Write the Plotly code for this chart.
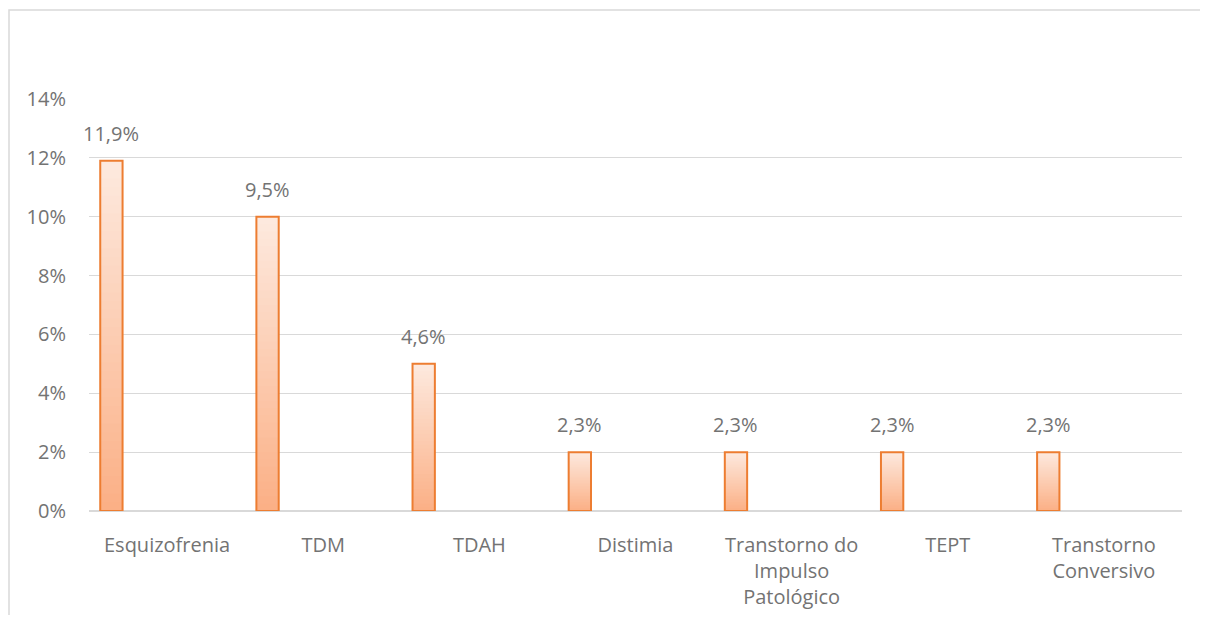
import plotly.graph_objects as go

# ---- data ----
categories = ["Esquizofrenia", "TDM", "TDAH", "Distimia",
              "Transtorno do<br>Impulso<br>Patológico", "TEPT",
              "Transtorno<br>Conversivo"]
bar_values = [11.9, 10.0, 5.0, 2.0, 2.0, 2.0, 2.0]          # bar heights as drawn (%)
label_texts = ["11,9%", "9,5%", "4,6%", "2,3%", "2,3%", "2,3%", "2,3%"]
y_tick_values = [0, 2, 4, 6, 8, 10, 12, 14]
y_tick_labels = ["0%", "2%", "4%", "6%", "8%", "10%", "12%", "14%"]

# ---- style ----
FONT = "Open Sans"
TXT = "#737373"
GRID = "#D9D9D9"
OUTLINE = "#ED7D31"
BOTTOM_RGB = (251, 176, 134)
TOP_RGB = (253, 233, 222)
BAR_OFFSET = -0.428
BAR_WIDTH = 0.143
N_SEG = 40

# page body has an 8px margin; figure sized to fit the window without scrollbars
FW, FH = 1200, 607
ML, MR, MT, MB = 81, 26, 91, 104
PW = FW - ML - MR
PH = FH - MT - MB

xpos = list(range(len(categories)))

fig = go.Figure()

# gradient fill: overlapping layers from bottom (dark) to top (light)
for k in range(N_SEG):
    f = k / (N_SEG - 1)
    r = round(BOTTOM_RGB[0] + (TOP_RGB[0] - BOTTOM_RGB[0]) * f)
    g = round(BOTTOM_RGB[1] + (TOP_RGB[1] - BOTTOM_RGB[1]) * f)
    b = round(BOTTOM_RGB[2] + (TOP_RGB[2] - BOTTOM_RGB[2]) * f)
    bases = [v * k / N_SEG for v in bar_values]
    heights = [v - bs for v, bs in zip(bar_values, bases)]
    fig.add_trace(go.Bar(
        x=xpos, y=heights, base=bases,
        offset=BAR_OFFSET, width=BAR_WIDTH,
        marker=dict(color=f"rgb({r},{g},{b})", line=dict(width=0)),
        hoverinfo="skip", showlegend=False,
    ))

# outline
fig.add_trace(go.Bar(
    x=xpos, y=bar_values, base=[0] * len(bar_values),
    offset=BAR_OFFSET, width=BAR_WIDTH,
    marker=dict(color="rgba(0,0,0,0)", line=dict(color=OUTLINE, width=2)),
    showlegend=False,
))

for xi, v, t in zip(xpos, bar_values, label_texts):
    fig.add_annotation(
        x=xi + BAR_OFFSET + BAR_WIDTH / 2, y=v, text=t,
        showarrow=False, yanchor="bottom", yshift=12,
        font=dict(family=FONT, size=20, color=TXT),
    )

# chart frame: only left and top edges are visible in the reference
fx0 = (1 - ML) / PW
fx1 = (FW + 20 - ML) / PW
fy0 = -(MB + 20) / PH
fy1 = (MT + PH - 2) / PH
fig.add_shape(type="path", xref="paper", yref="paper",
              path=f"M {fx0} {fy0} L {fx0} {fy1} L {fx1} {fy1}",
              line=dict(color=GRID, width=1.5), layer="below")

fig.update_layout(
    barmode="overlay",
    width=FW, height=FH,
    margin=dict(l=ML, r=MR, t=MT, b=MB, pad=0, autoexpand=False),
    paper_bgcolor="white", plot_bgcolor="white",
    font=dict(family=FONT, size=20, color=TXT),
    showlegend=False,
    xaxis=dict(
        range=[-0.5, len(categories) - 0.5],
        tickmode="array", tickvals=xpos, ticktext=categories,
        showgrid=False, zeroline=False, showline=False, ticks="",
        tickfont=dict(family=FONT, size=20, color=TXT),
        ticklabelstandoff=20, automargin=False,
    ),
    yaxis=dict(
        range=[0, 14],
        tickmode="array", tickvals=y_tick_values, ticktext=y_tick_labels,
        showgrid=True, gridcolor=GRID, gridwidth=1,
        zeroline=True, zerolinecolor=GRID, zerolinewidth=1.5,
        showline=False, ticks="",
        tickfont=dict(family=FONT, size=20, color=TXT),
        ticklabelstandoff=22, automargin=False,
    ),
)

fig.write_html("out.html")
